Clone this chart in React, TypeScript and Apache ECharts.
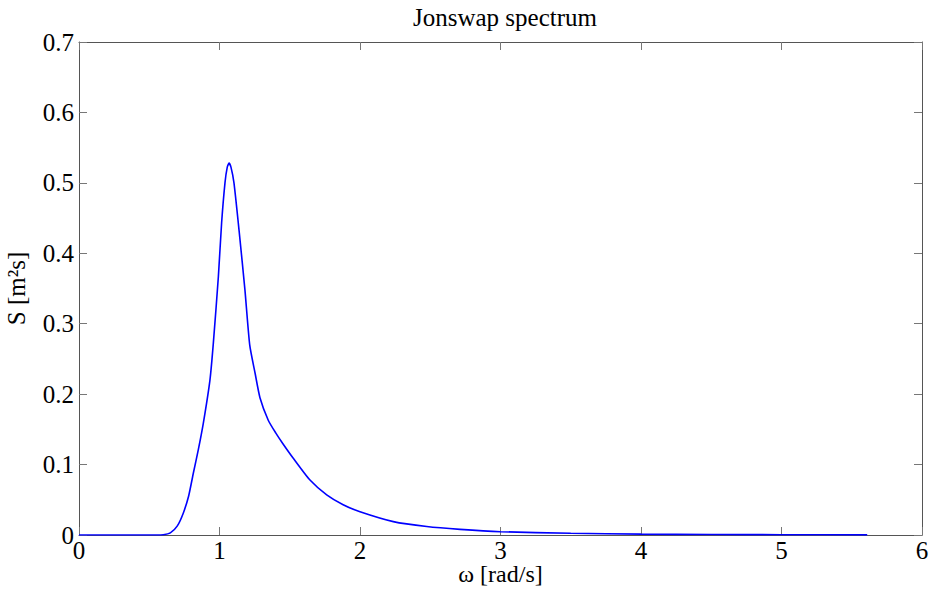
import React, { useEffect, useRef } from "react";
import * as echarts from "echarts";

// Wave frequency ω [rad/s] and spectral density S [m²s]
const omega = [
  0, 0.45, 0.55, 0.6, 0.65, 0.7, 0.742, 0.78, 0.814, 0.85, 0.885, 0.932, 0.956,
  0.992, 1.015, 1.039, 1.055, 1.068, 1.082, 1.103, 1.141, 1.181, 1.215, 1.253,
  1.288, 1.347, 1.4, 1.45, 1.525, 1.644, 1.763, 1.88, 2.0, 2.237, 2.475, 2.712,
  3.0, 3.5, 4.0, 4.5, 5.0, 5.61,
];
const spectrum = [
  0, 0, 0, 0.0003, 0.003, 0.013, 0.031, 0.055, 0.088, 0.122, 0.159, 0.22, 0.272,
  0.367, 0.443, 0.5, 0.522, 0.528, 0.522, 0.5, 0.429, 0.348, 0.27, 0.23, 0.195,
  0.163, 0.145, 0.13, 0.109, 0.078, 0.057, 0.043, 0.033, 0.019, 0.012, 0.008,
  0.0047, 0.0024, 0.0012, 0.0007, 0.0004, 0.0002,
];

const xTicks = [0, 1, 2, 3, 4, 5, 6];
const yTicks = [0, 0.1, 0.2, 0.3, 0.4, 0.5, 0.6, 0.7];

const FONT = "'Liberation Serif', 'Times New Roman', serif";
const AXIS_COLOR = "#555";

export default function App() {
  const ref = useRef<HTMLDivElement>(null);

  useEffect(() => {
    document.body.style.margin = "0";
    const chart = echarts.init(ref.current!, null, { renderer: "svg" });

    const xMin = xTicks[0];
    const xMax = xTicks[xTicks.length - 1];
    const xStep = xTicks[1] - xTicks[0];
    const yMin = yTicks[0];
    const yMax = yTicks[yTicks.length - 1];
    const yStep = +(yTicks[1] - yTicks[0]).toFixed(2);

    const axisLine = {
      show: true,
      onZero: false,
      lineStyle: { color: AXIS_COLOR, width: 1 },
    };
    const axisTick = {
      show: true,
      inside: true,
      length: 8,
      lineStyle: { color: "#777", width: 1 },
    };

    const xBase = {
      type: "value" as const,
      min: xMin,
      max: xMax,
      interval: xStep,
      axisLine,
      axisTick,
      splitLine: { show: false },
    };
    const yBase = {
      type: "value" as const,
      min: yMin,
      max: yMax,
      interval: yStep,
      axisLine,
      axisTick,
      splitLine: { show: false },
    };

    chart.setOption({
      animation: false,
      backgroundColor: "#fff",
      title: {
        text: "Jonswap spectrum",
        left: 500,
        textAlign: "center",
        top: 0,
        textStyle: { fontFamily: FONT, fontSize: 25, fontWeight: "normal", color: "#000" },
      },
      grid: {
        left: 79,
        right: 9,
        top: 42,
        bottom: 63,
        containLabel: false,
        outerBoundsMode: "none",
      },
      xAxis: [
        {
          ...xBase,
          position: "bottom",
          name: "ω [rad/s]",
          nameLocation: "middle",
          nameGap: 31,
          nameMoveOverlap: false,
          nameTextStyle: {
            fontFamily: FONT,
            fontSize: 24,
            lineHeight: 16,
            color: "#000",
          },
          axisLabel: {
            fontFamily: FONT,
            fontSize: 25,
            lineHeight: 18,
            color: "#000",
            margin: 6,
            formatter: (v: number) => String(Math.round(v)),
          },
        },
        { ...xBase, position: "top", axisLabel: { show: false } },
      ],
      yAxis: [
        {
          ...yBase,
          position: "left",
          name: "S [m²s]",
          nameLocation: "middle",
          nameGap: 50,
          nameRotate: 90,
          nameMoveOverlap: false,
          nameTextStyle: { fontFamily: FONT, fontSize: 25, color: "#000" },
          axisLabel: {
            fontFamily: FONT,
            fontSize: 25,
            color: "#000",
            margin: 5,
            formatter: (v: number) => (v === 0 ? "0" : v.toFixed(1)),
          },
        },
        { ...yBase, position: "right", axisLabel: { show: false } },
      ],
      series: [
        {
          type: "line",
          data: omega.map((w, i) => [w, spectrum[i]]),
          showSymbol: false,
          smooth: 0.2,
          lineStyle: { color: "#0000ff", width: 1.6 },
          itemStyle: { color: "#0000ff" },
          clip: true,
        },
      ],
    });

    return () => chart.dispose();
  }, []);

  return <div ref={ref} style={{ width: 931, height: 598 }} />;
}
